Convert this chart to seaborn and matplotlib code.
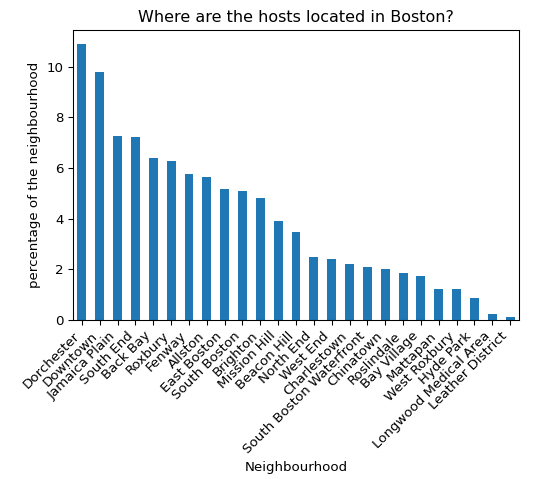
#! /bin/env python3

''' Share of Boston listings by neighbourhood '''

import matplotlib
matplotlib.use("Agg")
import matplotlib.pyplot as plt
import seaborn as sns
from pandas import DataFrame

neighbourhoods = [
    "Dorchester", "Downtown", "Jamaica Plain", "South End", "Back Bay",
    "Roxbury", "Fenway", "Allston", "East Boston", "South Boston",
    "Brighton", "Mission Hill", "Beacon Hill", "North End", "West End",
    "Charlestown", "South Boston Waterfront", "Chinatown", "Roslindale",
    "Bay Village", "Mattapan", "West Roxbury", "Hyde Park",
    "Longwood Medical Area", "Leather District",
]
percentages = [
    10.90, 9.79, 7.26, 7.21, 6.38,
    6.26, 5.75, 5.64, 5.16, 5.10,
    4.80, 3.89, 3.47, 2.47, 2.42,
    2.21, 2.10, 2.01, 1.84,
    1.74, 1.22, 1.22, 0.85,
    0.22, 0.12,
]

DPI = 96


def _main():
    data = DataFrame({"Neighbourhood": neighbourhoods, "pct": percentages})

    fig = plt.figure(figsize=(554 / DPI, 479 / DPI), dpi=DPI)
    axis = fig.add_axes([73 / 554, 1 - 320 / 479, 446 / 554, 290 / 479])

    sns.barplot(data, x="Neighbourhood", y="pct", color="#1f77b4",
                saturation=1, width=0.5, ax=axis)

    axis.set_xlim(-0.5, len(neighbourhoods) - 0.5)
    axis.set_ylim(0, max(percentages) * 1.05)
    axis.set_yticks([0, 2, 4, 6, 8, 10])
    axis.set_xticks(range(len(neighbourhoods)))
    axis.set_xticklabels(neighbourhoods, rotation=45, ha="right")
    axis.set_xlabel("Neighbourhood")
    axis.set_ylabel("percentage of the neighbourhood")
    axis.set_title("Where are the hosts located in Boston?")

    fig.savefig("out.png", dpi=DPI)


if __name__ == "__main__":
    _main()
